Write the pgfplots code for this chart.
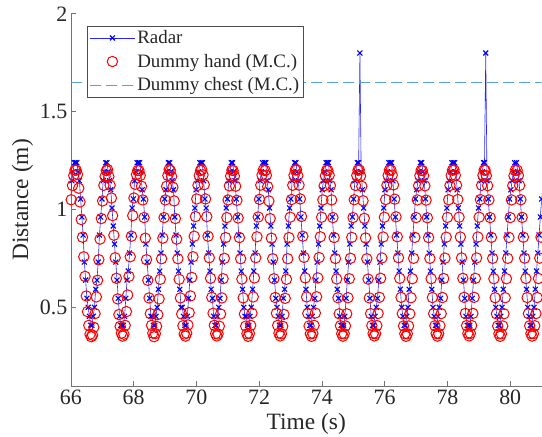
\documentclass[border=0pt]{standalone}
\usepackage{pgfplots}
\pgfplotsset{compat=1.18}
\usepackage{fontspec}
\setmainfont{Liberation Serif}
\definecolor{chest}{rgb}{0.35,0.62,0.85}
\begin{document}
\begin{tikzpicture}
\begin{axis}[
  scale only axis, width=470.7bp, height=372.3bp,
  xmin=66, xmax=81, ymin=0.1, ymax=2,
  axis lines=left, axis line style={-, draw=black!55, line width=0.6bp},
  tick align=inside, major tick length=5bp,
  tick style={draw=black!55, line width=0.6bp},
  xtick={66,68,...,80}, ytick={0.5,1,1.5,2},
  xticklabel={\pgfmathprintnumber[assume math mode=true]{\tick}},
  yticklabel={\pgfmathprintnumber[assume math mode=true]{\tick}},
  tick label style={font=\fontsize{22}{24}\selectfont, text=black!85},
  label style={font=\fontsize{23.5}{26}\selectfont, text=black!85},
  xlabel style={yshift=-2bp},
  xlabel={Time (s)}, ylabel={Distance (m)},
  legend cell align=left,
  legend style={at={(axis description cs:0,1)}, anchor=north west, xshift=15.8bp, yshift=-12bp,
    draw=black!70, line width=0.6bp, fill=white, font=\fontsize{19}{21}\selectfont, text=black!85,
    inner sep=2.5bp, row sep=5bp},
  legend image code/.code={\draw[mark repeat=2,mark phase=2,#1] plot coordinates {(0bp,0bp) (22.5bp,0bp) (45bp,0bp)};},
]
\addplot[blue!85, line width=0.6bp, mark=x, mark size=3.5bp, mark options={blue, line width=1.1bp}] coordinates {
(65.99,1.055) (66.03,1.148) (66.07,1.194) (66.11,1.240)
(66.15,1.240) (66.19,1.240) (66.23,1.194) (66.27,1.148) (66.31,1.055) (66.35,0.963) (66.39,0.871) (66.43,0.733) (66.47,0.641) (66.51,0.548) (66.55,0.502) (66.59,0.456) (66.63,0.410) (66.67,0.410) (66.71,0.456) (66.75,0.502) (66.79,0.594) (66.83,0.641) (66.87,0.733) (66.91,0.871) (66.95,0.963) (66.99,1.055) (67.03,1.148) (67.07,1.194) (67.11,1.240)
(67.15,1.240) (67.19,1.194) (67.23,1.148) (67.27,1.102) (67.31,1.009) (67.35,0.917) (67.39,0.825) (67.43,0.733) (67.47,0.641) (67.51,0.548) (67.55,0.456) (67.59,0.410) (67.63,0.410) (67.67,0.410) (67.71,0.456) (67.75,0.548) (67.79,0.641) (67.83,0.687) (67.87,0.779) (67.91,0.871) (67.95,1.009) (67.99,1.055) (68.03,1.148) (68.07,1.194) (68.11,1.240)
(68.15,1.240) (68.19,1.240) (68.23,1.194) (68.27,1.102) (68.31,1.055) (68.35,0.963) (68.39,0.825) (68.43,0.733) (68.47,0.641) (68.51,0.548) (68.55,0.456) (68.59,0.456) (68.63,0.410) (68.67,0.410) (68.71,0.456) (68.75,0.502) (68.79,0.594) (68.83,0.687) (68.87,0.779) (68.91,0.871) (68.95,0.963) (68.99,1.055) (69.03,1.102) (69.07,1.194) (69.11,1.240)
(69.15,1.240) (69.19,1.194) (69.23,1.148) (69.27,1.102) (69.31,0.963) (69.35,0.871) (69.39,0.779) (69.43,0.687) (69.47,0.594) (69.51,0.502) (69.55,0.502) (69.59,0.456) (69.63,0.410) (69.67,0.410) (69.71,0.456) (69.75,0.548) (69.79,0.641) (69.83,0.733) (69.87,0.825) (69.91,0.917) (69.95,1.009) (69.99,1.102) (70.03,1.148) (70.07,1.194) (70.11,1.240)
(70.15,1.240) (70.19,1.240) (70.23,1.148) (70.27,1.055) (70.31,1.009) (70.35,0.871) (70.39,0.779) (70.43,0.687) (70.47,0.594) (70.51,0.548) (70.55,0.456) (70.59,0.410) (70.63,0.410) (70.67,0.456) (70.71,0.502) (70.75,0.548) (70.79,0.641) (70.83,0.733) (70.87,0.825) (70.91,0.917) (70.95,1.009) (70.99,1.055) (71.03,1.148) (71.07,1.194) (71.11,1.240)
(71.15,1.240) (71.19,1.194) (71.23,1.148) (71.27,1.055) (71.31,0.963) (71.35,0.871) (71.39,0.779) (71.43,0.687) (71.47,0.594) (71.51,0.502) (71.55,0.456) (71.59,0.456) (71.63,0.410) (71.67,0.410) (71.71,0.456) (71.75,0.502) (71.79,0.594) (71.83,0.687) (71.87,0.779) (71.91,0.917) (71.95,0.963) (71.99,1.055) (72.03,1.148) (72.07,1.194) (72.11,1.240)
(72.17,1.240) (72.21,1.240) (72.25,1.148) (72.29,1.102) (72.33,1.009) (72.37,0.917) (72.41,0.825) (72.45,0.733) (72.49,0.641) (72.53,0.548) (72.57,0.502) (72.61,0.456) (72.65,0.410) (72.69,0.410) (72.73,0.456) (72.77,0.548) (72.81,0.594) (72.85,0.687) (72.89,0.825) (72.93,0.917) (72.97,1.009) (73.01,1.055) (73.05,1.148) (73.09,1.194) (73.13,1.240)
(73.17,1.240) (73.21,1.194) (73.25,1.148) (73.29,1.055) (73.33,0.963) (73.37,0.871) (73.41,0.779) (73.45,0.687) (73.49,0.594) (73.53,0.502) (73.57,0.456) (73.61,0.410) (73.65,0.410) (73.69,0.456) (73.73,0.502) (73.77,0.548) (73.81,0.641) (73.85,0.733) (73.89,0.825) (73.93,0.917) (73.97,1.009) (74.01,1.102) (74.05,1.148) (74.09,1.194) (74.13,1.240)
(74.17,1.240) (74.21,1.240) (74.25,1.148) (74.29,1.102) (74.33,0.963) (74.37,0.871) (74.41,0.779) (74.45,0.687) (74.49,0.594) (74.53,0.548) (74.57,0.456) (74.61,0.410) (74.65,0.410) (74.69,0.410) (74.73,0.456) (74.77,0.548) (74.81,0.641) (74.85,0.733) (74.89,0.825) (74.93,0.917) (74.97,0.963) (75.01,1.055) (75.05,1.148) (75.09,1.194) (75.13,1.240)
(75.17,1.240) (75.21,1.800) (75.25,1.194) (75.29,1.102) (75.33,1.009) (75.37,0.917) (75.41,0.825) (75.45,0.733) (75.49,0.641) (75.53,0.548) (75.57,0.456) (75.61,0.410) (75.65,0.410) (75.69,0.456) (75.73,0.502) (75.77,0.548) (75.81,0.641) (75.85,0.733) (75.89,0.825) (75.93,0.917) (75.97,1.009) (76.01,1.102) (76.05,1.148) (76.09,1.194) (76.13,1.240)
(76.18,1.240) (76.22,1.240) (76.26,1.148) (76.30,1.055) (76.34,0.963) (76.38,0.871) (76.42,0.779) (76.46,0.687) (76.50,0.594) (76.54,0.502) (76.58,0.456) (76.62,0.410) (76.66,0.410) (76.70,0.456) (76.74,0.502) (76.78,0.594) (76.82,0.687) (76.86,0.779) (76.90,0.871) (76.94,0.963) (76.98,1.055) (77.02,1.102) (77.06,1.148) (77.10,1.194) (77.14,1.240)
(77.18,1.240) (77.22,1.194) (77.26,1.148) (77.30,1.055) (77.34,0.963) (77.38,0.871) (77.42,0.779) (77.46,0.687) (77.50,0.594) (77.54,0.502) (77.58,0.456) (77.62,0.410) (77.66,0.410) (77.70,0.456) (77.74,0.502) (77.78,0.548) (77.82,0.641) (77.86,0.733) (77.90,0.825) (77.94,0.917) (77.98,1.009) (78.02,1.102) (78.06,1.148) (78.10,1.194) (78.14,1.240)
(78.19,1.240) (78.23,1.240) (78.27,1.194) (78.31,1.102) (78.35,1.009) (78.39,0.917) (78.43,0.825) (78.47,0.733) (78.51,0.641) (78.55,0.548) (78.59,0.456) (78.63,0.410) (78.67,0.410) (78.71,0.410) (78.75,0.456) (78.79,0.548) (78.83,0.641) (78.87,0.733) (78.91,0.825) (78.95,0.917) (78.99,1.009) (79.03,1.055) (79.07,1.148) (79.11,1.194) (79.15,1.240)
(79.18,1.240) (79.22,1.800) (79.26,1.148) (79.30,1.055) (79.34,0.963) (79.38,0.871) (79.42,0.779) (79.46,0.687) (79.50,0.594) (79.54,0.502) (79.58,0.456) (79.62,0.410) (79.66,0.410) (79.70,0.456) (79.74,0.502) (79.78,0.594) (79.82,0.687) (79.86,0.779) (79.90,0.871) (79.94,0.963) (79.98,1.055) (80.02,1.102) (80.06,1.148) (80.10,1.194) (80.14,1.240)
(80.20,1.240) (80.24,1.194) (80.28,1.148) (80.32,1.055) (80.36,0.963) (80.40,0.871) (80.44,0.779) (80.48,0.687) (80.52,0.594) (80.56,0.502) (80.60,0.456) (80.64,0.410) (80.68,0.410) (80.72,0.456) (80.76,0.502) (80.80,0.594) (80.84,0.687) (80.88,0.779) (80.92,0.871) (80.96,0.963) (81.00,1.055) (81.04,1.148)
};
\addlegendentry{Radar}
\addplot[only marks, mark=o, mark size=5.2bp, mark options={red, line width=1bp}] coordinates {
(66.01,1.051) (66.05,1.124) (66.09,1.175) (66.13,1.202)
(66.17,1.202) (66.21,1.180) (66.25,1.110) (66.29,1.040) (66.33,0.950) (66.37,0.860) (66.41,0.760) (66.45,0.660) (66.49,0.560) (66.53,0.480) (66.57,0.410) (66.61,0.365) (66.65,0.352) (66.69,0.360) (66.73,0.400) (66.77,0.470) (66.81,0.555) (66.85,0.640) (66.89,0.745) (66.93,0.850) (66.97,0.955) (67.01,1.045) (67.05,1.125) (67.09,1.170) (67.13,1.200)
(67.17,1.205) (67.21,1.170) (67.25,1.125) (67.29,1.060) (67.33,0.970) (67.37,0.870) (67.41,0.755) (67.45,0.650) (67.49,0.545) (67.53,0.465) (67.57,0.405) (67.61,0.370) (67.65,0.355) (67.69,0.365) (67.73,0.410) (67.77,0.480) (67.81,0.565) (67.85,0.660) (67.89,0.760) (67.93,0.865) (67.97,0.970) (68.01,1.060) (68.05,1.130) (68.09,1.180) (68.13,1.200)
(68.17,1.200) (68.21,1.175) (68.25,1.120) (68.29,1.050) (68.33,0.960) (68.37,0.855) (68.41,0.745) (68.45,0.640) (68.49,0.550) (68.53,0.470) (68.57,0.410) (68.61,0.370) (68.65,0.352) (68.69,0.368) (68.73,0.405) (68.77,0.465) (68.81,0.545) (68.85,0.645) (68.89,0.750) (68.93,0.855) (68.97,0.960) (69.01,1.050) (69.05,1.120) (69.09,1.175) (69.13,1.205)
(69.17,1.200) (69.21,1.170) (69.25,1.115) (69.29,1.045) (69.33,0.955) (69.37,0.850) (69.41,0.750) (69.45,0.645) (69.49,0.550) (69.53,0.468) (69.57,0.408) (69.61,0.366) (69.65,0.355) (69.69,0.370) (69.73,0.412) (69.77,0.475) (69.81,0.560) (69.85,0.655) (69.89,0.760) (69.93,0.865) (69.97,0.965) (70.01,1.055) (70.05,1.125) (70.09,1.175) (70.13,1.200)
(70.17,1.205) (70.21,1.178) (70.25,1.128) (70.29,1.055) (70.33,0.965) (70.37,0.865) (70.41,0.755) (70.45,0.650) (70.49,0.553) (70.53,0.472) (70.57,0.410) (70.61,0.368) (70.65,0.356) (70.69,0.366) (70.73,0.406) (70.77,0.468) (70.81,0.550) (70.85,0.648) (70.89,0.752) (70.93,0.858) (70.97,0.960) (71.01,1.050) (71.05,1.122) (71.09,1.172) (71.13,1.202)
(71.17,1.200) (71.21,1.172) (71.25,1.120) (71.29,1.048) (71.33,0.958) (71.37,0.858) (71.41,0.750) (71.45,0.646) (71.49,0.550) (71.53,0.468) (71.57,0.406) (71.61,0.367) (71.65,0.354) (71.69,0.369) (71.73,0.410) (71.77,0.472) (71.81,0.555) (71.85,0.652) (71.89,0.755) (71.93,0.862) (71.97,0.963) (72.01,1.053) (72.05,1.126) (72.09,1.177) (72.13,1.203)
(72.19,1.200) (72.23,1.176) (72.27,1.118) (72.31,1.045) (72.35,0.955) (72.39,0.855) (72.43,0.750) (72.47,0.648) (72.51,0.552) (72.55,0.472) (72.59,0.410) (72.63,0.370) (72.67,0.356) (72.71,0.367) (72.75,0.405) (72.79,0.466) (72.83,0.548) (72.87,0.645) (72.91,0.750) (72.95,0.858) (72.99,0.962) (73.03,1.052) (73.07,1.125) (73.11,1.176) (73.15,1.203)
(73.19,1.204) (73.23,1.174) (73.27,1.126) (73.31,1.055) (73.35,0.966) (73.39,0.865) (73.43,0.757) (73.47,0.652) (73.51,0.555) (73.55,0.471) (73.59,0.407) (73.63,0.367) (73.67,0.354) (73.71,0.369) (73.75,0.410) (73.79,0.473) (73.83,0.556) (73.87,0.652) (73.91,0.756) (73.95,0.862) (73.99,0.962) (74.03,1.050) (74.07,1.122) (74.11,1.173) (74.15,1.201)
(74.19,1.201) (74.23,1.176) (74.27,1.123) (74.31,1.050) (74.35,0.960) (74.39,0.858) (74.43,0.751) (74.47,0.647) (74.51,0.551) (74.55,0.469) (74.59,0.408) (74.63,0.368) (74.67,0.355) (74.71,0.367) (74.75,0.407) (74.79,0.469) (74.83,0.551) (74.87,0.648) (74.91,0.752) (74.95,0.859) (74.99,0.960) (75.03,1.051) (75.07,1.124) (75.11,1.175) (75.15,1.202)
(75.19,1.203) (75.23,1.172) (75.27,1.120) (75.31,1.046) (75.35,0.956) (75.39,0.856) (75.43,0.750) (75.47,0.646) (75.51,0.550) (75.55,0.470) (75.59,0.409) (75.63,0.369) (75.67,0.356) (75.71,0.368) (75.75,0.409) (75.79,0.471) (75.83,0.553) (75.87,0.650) (75.91,0.754) (75.95,0.861) (75.99,0.962) (76.03,1.052) (76.07,1.125) (76.11,1.176) (76.15,1.203)
(76.20,1.202) (76.24,1.177) (76.28,1.127) (76.32,1.054) (76.36,0.964) (76.40,0.862) (76.44,0.755) (76.48,0.650) (76.52,0.553) (76.56,0.470) (76.60,0.407) (76.64,0.367) (76.68,0.354) (76.72,0.367) (76.76,0.407) (76.80,0.469) (76.84,0.551) (76.88,0.648) (76.92,0.752) (76.96,0.859) (77.00,0.960) (77.04,1.050) (77.08,1.123) (77.12,1.174) (77.16,1.201)
(77.20,1.200) (77.24,1.174) (77.28,1.122) (77.32,1.049) (77.36,0.959) (77.40,0.858) (77.44,0.752) (77.48,0.648) (77.52,0.552) (77.56,0.470) (77.60,0.408) (77.64,0.368) (77.68,0.355) (77.72,0.368) (77.76,0.408) (77.80,0.470) (77.84,0.552) (77.88,0.649) (77.92,0.753) (77.96,0.860) (78.00,0.961) (78.04,1.051) (78.08,1.124) (78.12,1.175) (78.16,1.202)
(78.21,1.203) (78.25,1.176) (78.29,1.125) (78.33,1.052) (78.37,0.962) (78.41,0.861) (78.45,0.754) (78.49,0.650) (78.53,0.553) (78.57,0.471) (78.61,0.409) (78.65,0.369) (78.69,0.356) (78.73,0.369) (78.77,0.409) (78.81,0.471) (78.85,0.553) (78.89,0.650) (78.93,0.754) (78.97,0.861) (79.01,0.962) (79.05,1.052) (79.09,1.125) (79.13,1.176) (79.17,1.203)
(79.20,1.201) (79.24,1.174) (79.28,1.123) (79.32,1.050) (79.36,0.960) (79.40,0.859) (79.44,0.752) (79.48,0.648) (79.52,0.551) (79.56,0.469) (79.60,0.407) (79.64,0.367) (79.68,0.354) (79.72,0.367) (79.76,0.407) (79.80,0.469) (79.84,0.551) (79.88,0.648) (79.92,0.752) (79.96,0.859) (80.00,0.960) (80.04,1.050) (80.08,1.123) (80.12,1.174) (80.16,1.201)
(80.22,1.202) (80.26,1.175) (80.30,1.124) (80.34,1.051) (80.38,0.961) (80.42,0.860) (80.46,0.753) (80.50,0.649) (80.54,0.552) (80.58,0.470) (80.62,0.408) (80.66,0.368) (80.70,0.355) (80.74,0.368) (80.78,0.408) (80.82,0.470) (80.86,0.552) (80.90,0.649) (80.94,0.753) (80.98,0.860) (81.02,0.961)
};
\addlegendentry{Dummy hand (M.C.)}
\addplot[chest, line width=0.8bp, dash pattern=on 11bp off 5bp] coordinates {(66,1.65) (81,1.65)};
\addlegendentry{Dummy chest (M.C.)}
\end{axis}
\pgfresetboundingbox
\path[use as bounding box] (-70.9bp,-50.9bp) rectangle (471.1bp,386.1bp);
\end{tikzpicture}
\end{document}
